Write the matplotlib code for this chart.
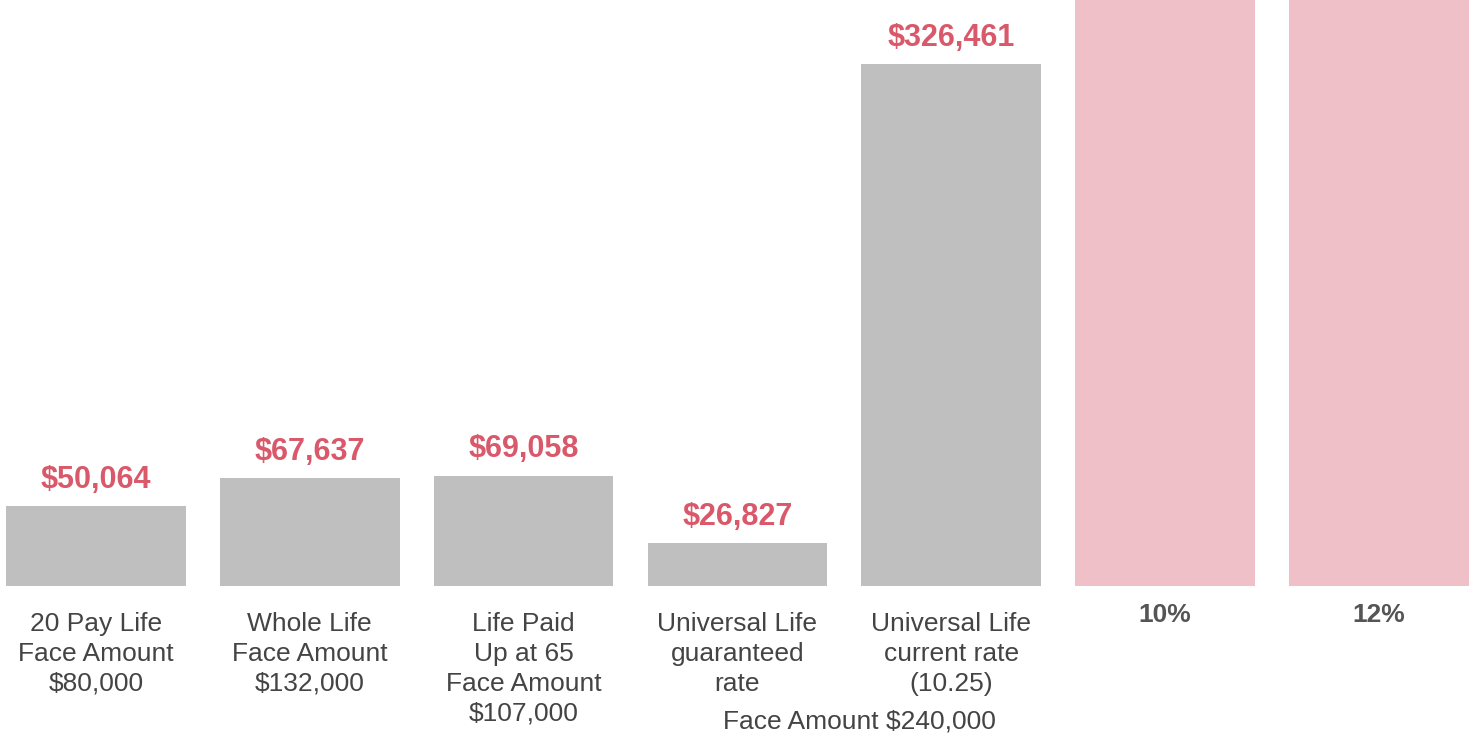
import matplotlib.pyplot as plt

plt.rcParams["font.family"] = ["Liberation Sans", "DejaVu Sans"]

# chart data
labels = [
    "20 Pay Life\nFace Amount\n$80,000",
    "Whole Life\nFace Amount\n$132,000",
    "Life Paid\nUp at 65\nFace Amount\n$107,000",
    "Universal Life\nguaranteed\nrate",
    "Universal Life\ncurrent rate\n(10.25)",
    "10%",
    "12%",
]
values = [50064, 67637, 69058, 26827, 326461, 480000, 640000]
value_text = ["$50,064", "$67,637", "$69,058", "$26,827", "$326,461", "", ""]
bold_label = [False, False, False, False, False, True, True]
colors = ["#bfbfbf"] * 5 + ["#efc0c8"] * 2
group_note = "Face Amount $240,000"

fig = plt.figure(figsize=(14.77, 7.33), dpi=100)
ax = fig.add_axes([0, 147 / 733, 1, 586 / 733])

x = list(range(len(values)))
ax.bar(x, values, width=0.84, color=colors)
ax.set_xlim(-0.449, 6.459)
ax.set_ylim(0, 366500)
ax.axis("off")

for i, v in enumerate(values):
    if value_text[i]:
        ax.annotate(value_text[i], (i, v), xytext=(0, 8), textcoords="offset points",
                    ha="center", va="bottom", fontsize=22, fontweight="bold",
                    color="#d9596b")
    ax.annotate(labels[i], (i, 0), xytext=(0, -12 if bold_label[i] else -19),
                textcoords="offset points",
                ha="center", va="top", fontsize=19, linespacing=1.3,
                color="#555555" if bold_label[i] else "#444444",
                fontweight="bold" if bold_label[i] else "normal",
                annotation_clip=False)

ax.annotate(group_note, (3.57, 0), xytext=(0, -89), textcoords="offset points",
            ha="center", va="top", fontsize=19, color="#444444",
            annotation_clip=False)

fig.savefig("out.png", dpi=100)
